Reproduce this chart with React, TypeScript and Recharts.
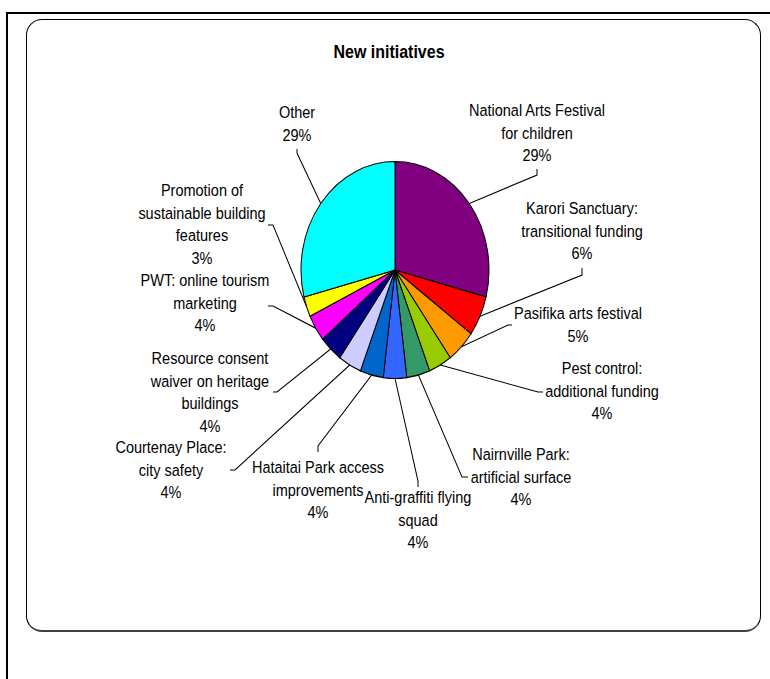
import React from 'react';
import { PieChart, Pie, Cell } from 'recharts';

const categories = [
  'National Arts Festival for children',
  'Karori Sanctuary: transitional funding',
  'Pasifika arts festival',
  'Pest control: additional funding',
  'Nairnville Park: artificial surface',
  'Anti-graffiti flying squad',
  'Hataitai Park access improvements',
  'Courtenay Place: city safety',
  'Resource consent waiver on heritage buildings',
  'PWT: online tourism marketing',
  'Promotion of sustainable building features',
  'Other',
];

// how each category name is wrapped on the chart
const labelLines = [
  ['National Arts Festival', 'for children'],
  ['Karori Sanctuary:', 'transitional funding'],
  ['Pasifika arts festival'],
  ['Pest control:', 'additional funding'],
  ['Nairnville Park:', 'artificial surface'],
  ['Anti-graffiti flying', 'squad'],
  ['Hataitai Park access', 'improvements'],
  ['Courtenay Place:', 'city safety'],
  ['Resource consent', 'waiver on heritage', 'buildings'],
  ['PWT: online tourism', 'marketing'],
  ['Promotion of', 'sustainable building', 'features'],
  ['Other'],
];

const shares = [29, 6, 5, 4, 4, 4, 4, 4, 4, 4, 3, 29];

const colors = [
  '#800080', '#FF0000', '#FF9900', '#99CC00', '#339966', '#3366FF',
  '#0066CC', '#CCCCFF', '#000080', '#FF00FF', '#FFFF00', '#00FFFF',
];

const W = 770;
const H = 679;
// the original picture is stretched vertically
const STRETCH = 1.154;
const CH = H / STRETCH;
const FONT = '"Liberation Sans", Arial, sans-serif';
const LINE_GAP = 22.6;

// label placement, in page pixels: text centre x, first line centre y, leader end + elbow
const labelLayout = [
  { x: 537, y: 110, end: [537, 169], elbow: [537, 175] },
  { x: 582, y: 208, end: [582, 268], elbow: [582, 275] },
  { x: 578, y: 313, end: [512, 325], elbow: [508, 325] },
  { x: 602, y: 368, end: [543, 392], elbow: [538, 392] },
  { x: 521, y: 454, end: [468, 477], elbow: [462, 477] },
  { x: 418, y: 497, end: [418, 487], elbow: [418, 481] },
  { x: 318, y: 467, end: [318, 452], elbow: [318, 446] },
  { x: 171, y: 447, end: [230, 470], elbow: [235, 470] },
  { x: 210, y: 358, end: [273, 392], elbow: [277, 392] },
  { x: 205, y: 280, end: [268, 306], elbow: [273, 306] },
  { x: 202, y: 190, end: [268, 225], elbow: [273, 225] },
  { x: 297, y: 112, end: [297, 149], elbow: [297, 153] },
];

const data = categories.map((name, i) => ({ name, value: shares[i] }));

const renderLabel = (props: any) => {
  const { cx, cy, midAngle, outerRadius, index } = props;
  const lay = labelLayout[index];
  if (!lay) return null;
  const rad = Math.PI / 180;
  const sx = cx + outerRadius * Math.cos(-midAngle * rad);
  const sy = cy + outerRadius * Math.sin(-midAngle * rad);
  const lines = [...labelLines[index], `${shares[index]}%`];
  const pts = `${sx},${sy} ${lay.elbow[0]},${lay.elbow[1] / STRETCH} ${lay.end[0]},${lay.end[1] / STRETCH}`;
  return (
    <g key={`lbl-${index}`}>
      <polyline points={pts} fill="none" stroke="#000" strokeWidth={1} />
      <text textAnchor="middle" fontSize={14.5} fill="#000" fontFamily={FONT}>
        {lines.map((t, j) => (
          <tspan key={j} x={lay.x} y={(lay.y + j * LINE_GAP) / STRETCH + 5.2}>
            {t}
          </tspan>
        ))}
      </text>
    </g>
  );
};

export default function App() {
  return (
    <div style={{ position: 'absolute', left: 0, top: 0, width: W, height: H, overflow: 'hidden', background: '#fff' }}>
      {/* outer frame, only top and left edges show */}
      <div
        style={{
          position: 'absolute', left: 6, top: 12, width: 820, height: 720,
          border: '2px solid #000', boxSizing: 'border-box',
        }}
      />
      {/* rounded chart area */}
      <div
        style={{
          position: 'absolute', left: 26, top: 19, width: 735, height: 613,
          border: '1px solid #000', borderBottom: '2px solid #404040',
          borderRadius: 16, boxSizing: 'border-box',
        }}
      />
      <div
        style={{
          position: 'absolute', left: 0, top: 0, width: W, height: CH,
          transform: `scaleY(${STRETCH})`, transformOrigin: '0 0',
        }}
      >
        <svg width={W} height={CH} style={{ position: 'absolute', left: 0, top: 0 }}>
          <text
            x={389}
            y={58 / STRETCH}
            textAnchor="middle"
            fontSize={16}
            fontWeight="bold"
            fontFamily={FONT}
            fill="#000"
          >
            New initiatives
          </text>
        </svg>
        <div style={{ position: 'absolute', left: 0, top: 0 }}>
          <PieChart width={W} height={CH} margin={{ top: 0, right: 0, bottom: 0, left: 0 }}>
            <Pie
              data={data}
              dataKey="value"
              nameKey="name"
              cx={395}
              cy={270 / STRETCH}
              outerRadius={94}
              innerRadius={0}
              startAngle={90}
              endAngle={-270}
              stroke="#000"
              strokeWidth={1}
              labelLine={false}
              label={renderLabel}
              isAnimationActive={false}
            >
              {data.map((d, i) => (
                <Cell key={d.name} fill={colors[i]} />
              ))}
            </Pie>
          </PieChart>
        </div>
      </div>
    </div>
  );
}
